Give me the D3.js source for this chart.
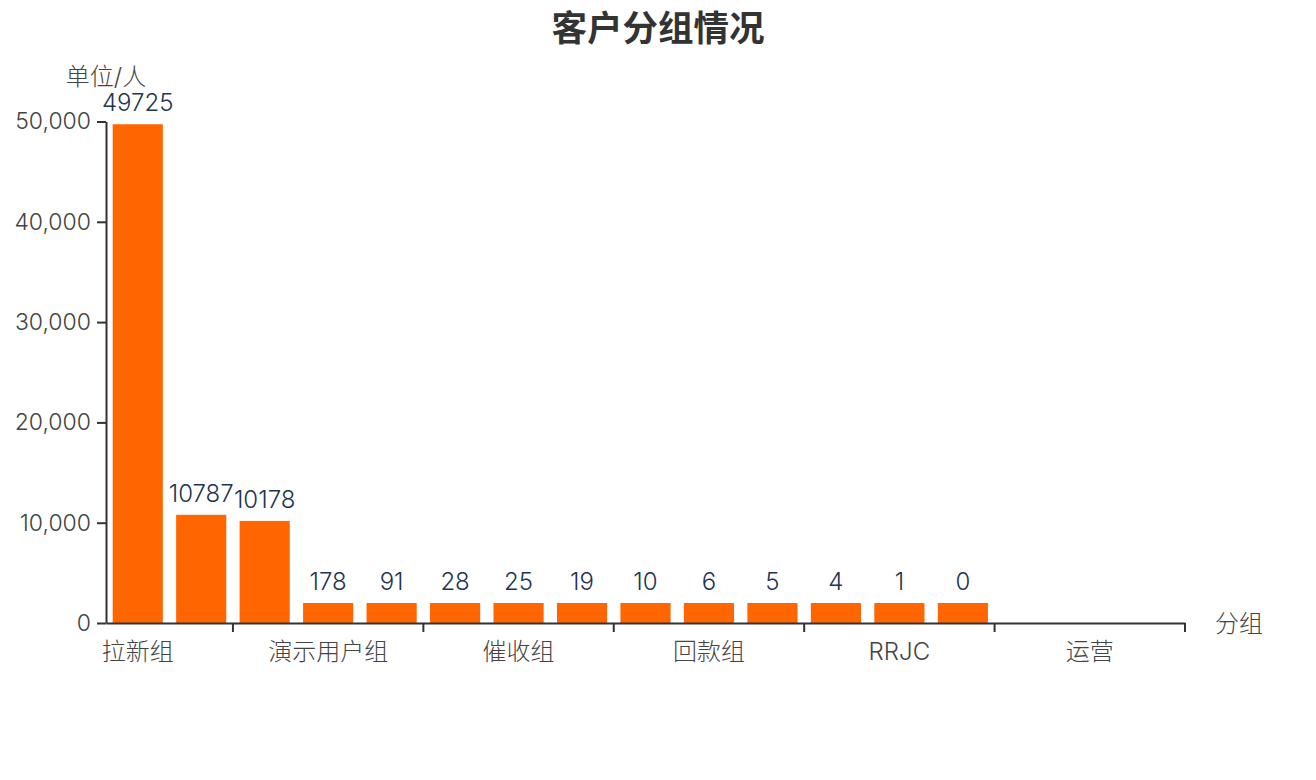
<!DOCTYPE html>
<html>
<head>
<meta charset="utf-8">
<script src="https://cdn.jsdelivr.net/npm/d3@7/dist/d3.min.js"></script>
<style>
  html, body { margin: 0; padding: 0; background: #fff; }
  svg { display: block; }
  text { font-family: Inter, "Noto Sans CJK SC", sans-serif; }
</style>
</head>
<body>
<svg id="chart" width="1316" height="780"></svg>
<script>
// ---- data ----
const title = "客户分组情况";
const yAxisName = "单位/人";
const xAxisName = "分组";
const categories = ["拉新组", "分组B", "分组C", "演示用户组", "分组E", "分组F", "催收组", "分组H", "分组I",
                    "回款组", "分组K", "分组L", "RRJC", "分组N", "分组O", "运营", "分组Q"];
const values = [49725, 10787, 10178, 178, 91, 28, 25, 19, 10, 6, 5, 4, 1, 0, null, null, null];
const yTicks = [0, 10000, 20000, 30000, 40000, 50000];
const labelEvery = 3;

// ---- layout ----
const svg = d3.select("#chart");
const plotLeft = 106, plotRight = 1185, plotBottom = 623, plotTop = 121.5;
const barMinHeight = 20;
const barColor = "#ff6600";

const x = d3.scaleBand().domain(categories).range([plotLeft, plotRight]).paddingInner(0.21).paddingOuter(0.105);
const xb = d3.scaleBand().domain(categories).range([plotLeft, plotRight]).padding(0);
const y = d3.scaleLinear().domain([0, 50000]).range([plotBottom, plotTop]);

// title
svg.append("text").attr("x", 658).attr("y", 41).attr("text-anchor", "middle")
  .attr("font-size", 35.5).attr("font-weight", "bold").attr("fill", "#333")
  .style("font-family", "'Noto Sans CJK SC', sans-serif").text(title);

// bars
const data = categories.map((c, i) => ({ c, v: values[i] })).filter(d => d.v !== null);
svg.append("g").selectAll("rect").data(data).join("rect")
  .attr("x", d => x(d.c))
  .attr("width", x.bandwidth())
  .attr("y", d => Math.min(y(d.v), plotBottom - barMinHeight))
  .attr("height", d => Math.max(plotBottom - y(d.v), barMinHeight))
  .attr("fill", barColor);

// value labels
svg.append("g").selectAll("text").data(data).join("text")
  .attr("x", d => x(d.c) + x.bandwidth() / 2)
  .attr("y", d => Math.min(y(d.v), plotBottom - barMinHeight) - 13)
  .attr("text-anchor", "middle")
  .attr("font-size", 24).attr("font-weight", 300).attr("fill", "#1e3550")
  .text(d => d.v);

// y axis
const yAxis = d3.axisLeft(y).tickValues(yTicks).tickFormat(d3.format(",")).tickSize(9).tickSizeOuter(0).tickPadding(6);
const gy = svg.append("g").attr("transform", `translate(${plotLeft},0)`).call(yAxis);
gy.select(".domain").attr("stroke", "#333").attr("stroke-width", 2);
gy.selectAll(".tick line").attr("stroke", "#333").attr("stroke-width", 2);
gy.selectAll(".tick text").attr("font-size", 23).attr("font-weight", 300).attr("fill", "#444")
  .style("font-family", "Inter, sans-serif");

// x axis
const labeled = categories.filter((c, i) => i % labelEvery === 0);
const xAxis = d3.axisBottom(xb).tickValues(labeled).tickSize(0).tickSizeOuter(0).tickPadding(20);
const gx = svg.append("g").attr("transform", `translate(0,${plotBottom})`).call(xAxis);
gx.select(".domain").attr("stroke", "#333").attr("stroke-width", 2);
gx.selectAll(".tick text").attr("font-size", 24).attr("font-weight", 300).attr("fill", "#444")
  .style("font-family", "Inter, 'Noto Sans CJK SC', sans-serif");
// boundary ticks
const tickCats = categories.filter((c, i) => i % labelEvery === labelEvery - 2);
gx.append("g").selectAll("line").data(tickCats).join("line")
  .attr("x1", d => xb(d) + xb.bandwidth()).attr("x2", d => xb(d) + xb.bandwidth())
  .attr("y1", 0).attr("y2", 9).attr("stroke", "#333").attr("stroke-width", 2);

// axis names
svg.append("text").attr("x", plotLeft).attr("y", 85).attr("text-anchor", "middle")
  .attr("font-size", 24).attr("font-weight", 300).attr("fill", "#444").text(yAxisName);
svg.append("text").attr("x", 1215).attr("y", 632).attr("text-anchor", "start")
  .attr("font-size", 24).attr("font-weight", 300).attr("fill", "#444").text(xAxisName);
</script>
</body>
</html>
